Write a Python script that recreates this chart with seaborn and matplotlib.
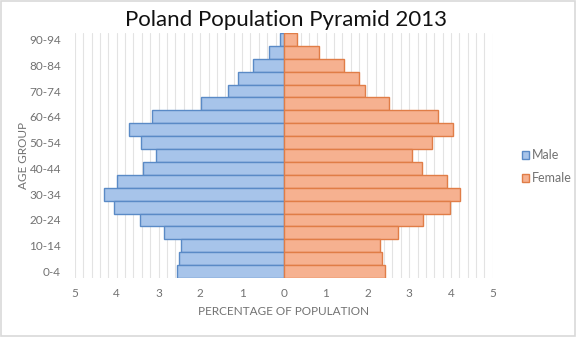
import numpy as np
import pandas as pd
import matplotlib
matplotlib.use("Agg")
import matplotlib.pyplot as plt
import seaborn as sns
from matplotlib.patches import Patch

ages = ["0-4", "5-9", "10-14", "15-19", "20-24", "25-29", "30-34", "35-39", "40-44",
        "45-49", "50-54", "55-59", "60-64", "65-69", "70-74", "75-79", "80-84", "85-89", "90-94"]
male = [2.56, 2.52, 2.47, 2.88, 3.45, 4.07, 4.31, 4.00, 3.38,
        3.07, 3.43, 3.71, 3.16, 1.99, 1.34, 1.10, 0.75, 0.35, 0.09]
female = [2.41, 2.36, 2.31, 2.72, 3.32, 3.97, 4.21, 3.90, 3.30,
          3.06, 3.54, 4.05, 3.68, 2.51, 1.94, 1.81, 1.43, 0.83, 0.31]
xticks = [-5, -4, -3, -2, -1, 0, 1, 2, 3, 4, 5]

df = pd.DataFrame({"age": ages, "Male": [-v for v in male], "Female": female})

sns.set_style("white")
plt.rcParams["font.family"] = ["Lato", "DejaVu Sans"]

fig = plt.figure(figsize=(5.77, 3.37), dpi=100)
ax = fig.add_axes([0.130, 0.175, 0.724, 0.727])

male_fill, male_edge = "#a7c4ea", "#5a8ac6"
fem_fill, fem_edge = "#f6b190", "#e07d47"

order = ages[::-1]
sns.barplot(data=df, x="Male", y="age", order=order, orient="h", color=male_fill,
            edgecolor=male_edge, linewidth=1.0, width=1.0, saturation=1, ax=ax, zorder=3)
sns.barplot(data=df, x="Female", y="age", order=order, orient="h", color=fem_fill,
            edgecolor=fem_edge, linewidth=1.0, width=1.0, saturation=1, ax=ax, zorder=3)

ax.set_xlim(-5, 5)
ax.set_ylim(len(ages) - 0.5, -0.5)
for gx in np.arange(-5, 5.0001, 0.2):
    ax.axvline(gx, color="#e3e3e3", linewidth=0.8, zorder=0)

ax.set_xticks(xticks)
ax.set_xticklabels([str(abs(t)) for t in xticks])
ax.set_yticks(range(len(order)))
ax.set_yticklabels([a if (len(ages) - 1 - i) % 2 == 0 else "" for i, a in enumerate(order)])
ax.tick_params(axis="both", length=0, labelsize=8.5, labelcolor="#727272")
ax.tick_params(axis="x", pad=7)
ax.tick_params(axis="y", pad=10)
for s in ax.spines.values():
    s.set_visible(False)

ax.set_xlabel("PERCENTAGE OF POPULATION", fontsize=8.5, color="#727272", labelpad=5)
ax.set_ylabel("AGE GROUP", fontsize=8.5, color="#727272", labelpad=0)

fig.text(0.495, 0.94, "Poland Population Pyramid 2013", fontsize=16, ha="center",
         va="center", color="#111111")

handles = [Patch(facecolor=male_fill, edgecolor=male_edge, label="Male"),
           Patch(facecolor=fem_fill, edgecolor=fem_edge, label="Female")]
leg = fig.legend(handles=handles, loc="center left", bbox_to_anchor=(0.885, 0.505),
                 frameon=False, fontsize=9, handlelength=0.6, handleheight=0.6,
                 handletextpad=0.2, labelspacing=0.9, labelcolor="#727272")

fig.patches.append(plt.Rectangle((0.002, 0.003), 0.995, 0.994, transform=fig.transFigure,
                                 fill=False, edgecolor="#d9d9d9", linewidth=1.2))

fig.savefig("out.png", dpi=100)
